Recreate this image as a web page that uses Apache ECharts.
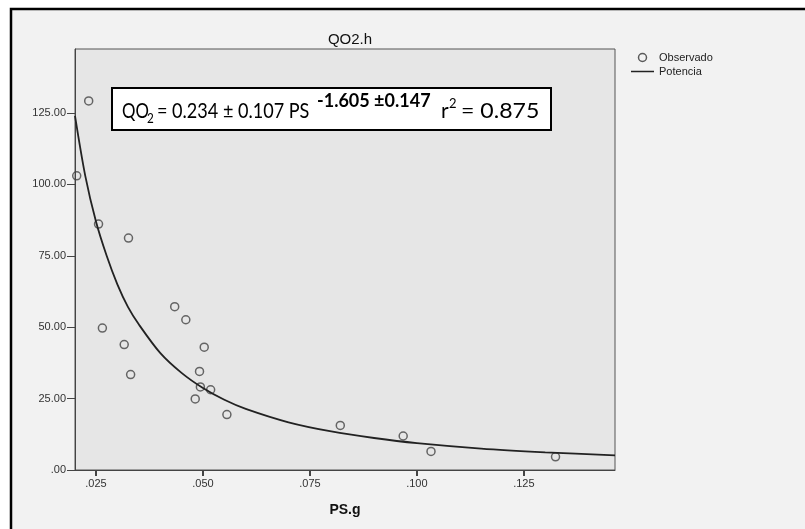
<!DOCTYPE html>
<html>
<head>
<meta charset="utf-8">
<script src="https://cdn.jsdelivr.net/npm/echarts@6/dist/echarts.min.js"></script>
<style>
  html, body { margin: 0; padding: 0; background: #ffffff; }
  #chart { width: 805px; height: 529px; }
</style>
</head>
<body>
<div id="chart"></div>
<script>
// observed points (PS.g, QO2.h)
var psX = [0.0233, 0.0205, 0.0256, 0.0326, 0.0265, 0.0316, 0.0331, 0.0434, 0.0460, 0.0503,
           0.0492, 0.0494, 0.0518, 0.0482, 0.0556, 0.0821, 0.0968, 0.1033, 0.1324];
var qo2Y = [129.2, 103.0, 86.1, 81.2, 49.7, 43.9, 33.4, 57.2, 52.6, 43.0,
            34.5, 29.1, 28.1, 24.9, 19.4, 15.6, 11.9, 6.5, 4.6];

// fitted power curve
var curveX = [0.0201, 0.0225, 0.025, 0.0275, 0.030, 0.0325, 0.035, 0.040, 0.045, 0.050,
              0.055, 0.060, 0.070, 0.080, 0.090, 0.100, 0.115, 0.130, 0.1463];
var curveY = [124, 103, 87, 75, 65, 57, 51, 41, 34, 28.7,
              24.6, 21.4, 16.7, 13.5, 11.2, 9.4, 7.5, 6.2, 5.1];

// tick labels
var xTicks = [0.025, 0.050, 0.075, 0.100, 0.125];
var yTicks = [0, 25, 50, 75, 100, 125];

function pairs(xs, ys) {
    var out = [];
    for (var i = 0; i < xs.length; i++) out.push([xs[i], ys[i]]);
    return out;
}
// SPSS style: no leading zero
function noZero(s) { return s.charAt(0) === '0' ? s.substring(1) : s; }

// one piece of the equation text
function eqText(txt, x, y, size, sx, bold) {
    return {
        type: 'text', z: 101, x: x, y: y, scaleX: sx,
        style: { text: txt, font: (bold ? 'bold ' : '') + size + 'px Lato', fill: '#000', verticalAlign: 'middle' }
    };
}

var myChart = echarts.init(document.getElementById('chart'));
var font = 'Liberation Sans';

var option = {
    animation: false,
    backgroundColor: '#ffffff',
    title: {
        text: 'QO2.h',
        left: 345, top: 27, textAlign: 'center',
        textStyle: { fontFamily: font, fontSize: 15, fontWeight: 'normal', color: '#111' }
    },
    legend: {
        orient: 'vertical',
        left: 626, top: 47,
        itemWidth: 23, itemHeight: 8, itemGap: 3,
        symbolKeepAspect: true,
        textStyle: { fontFamily: font, fontSize: 11, color: '#222' },
        data: [
            { name: 'Observado', icon: 'circle', itemStyle: { color: 'transparent', borderColor: '#333', borderWidth: 1.5 } },
            { name: 'Potencia', icon: 'path://M0,0 H23 V1.5 H0 Z', itemStyle: { color: '#222', borderWidth: 0 } }
        ]
    },
    grid: {
        left: 75, right: 190, top: 49, bottom: 59,
        show: true, backgroundColor: '#e6e6e6', borderColor: '#555', borderWidth: 1
    },
    xAxis: {
        type: 'value',
        min: 0.0201, max: 0.1463,
        name: 'PS.g', nameLocation: 'middle', nameGap: 33,
        nameTextStyle: { fontFamily: font, fontSize: 14, fontWeight: 'bold', color: '#111' },
        axisLine: { lineStyle: { color: '#444', width: 1 } },
        axisTick: { customValues: xTicks, length: 6, lineStyle: { color: '#444', width: 2 } },
        axisLabel: {
            customValues: xTicks, margin: 8,
            fontFamily: font, fontSize: 11, color: '#333',
            formatter: function (v) { return noZero(v.toFixed(3)); }
        },
        splitLine: { show: false }
    },
    yAxis: {
        type: 'value',
        min: 0, max: 147.4,
        axisLine: { show: true, lineStyle: { color: '#444', width: 1 } },
        axisTick: { show: true, customValues: yTicks, length: 8, lineStyle: { color: '#444', width: 1 } },
        axisLabel: {
            customValues: yTicks, margin: 9,
            fontFamily: font, fontSize: 11, color: '#333',
            formatter: function (v) { return noZero(v.toFixed(2)); }
        },
        splitLine: { show: false }
    },
    graphic: [
        // outer frame
        { type: 'rect', z: -10, shape: { x: 11, y: 9, width: 820, height: 540 },
          style: { fill: '#f2f2f2', stroke: '#000', lineWidth: 2.5 } },
        // equation box
        { type: 'rect', z: 100, shape: { x: 112, y: 88, width: 439, height: 42 },
          style: { fill: '#fff', stroke: '#000', lineWidth: 2 } },
        eqText('QO', 122, 111, 21, 0.8),
        eqText('2', 147, 119, 13, 0.9),
        eqText('= 0.234 \u00b1 0.107 PS', 157, 111, 21, 0.86),
        eqText('-1.605 \u00b10.147', 317, 101, 18, 1.0, true),
        eqText('r', 441, 111, 21, 1.0),
        eqText('2', 449, 104, 13, 1.0),
        eqText('= 0.875', 461, 111, 21, 1.1)
    ],
    series: [
        {
            name: 'Observado',
            type: 'scatter',
            symbol: 'circle',
            symbolSize: 8,
            itemStyle: { color: 'transparent', borderColor: '#444', borderWidth: 1.5 },
            data: pairs(psX, qo2Y)
        },
        {
            name: 'Potencia',
            type: 'line',
            symbol: 'none',
            smooth: 0.3,
            lineStyle: { color: '#222', width: 1.8 },
            data: pairs(curveX, curveY)
        }
    ]
};
myChart.setOption(option);
</script>
</body>
</html>
